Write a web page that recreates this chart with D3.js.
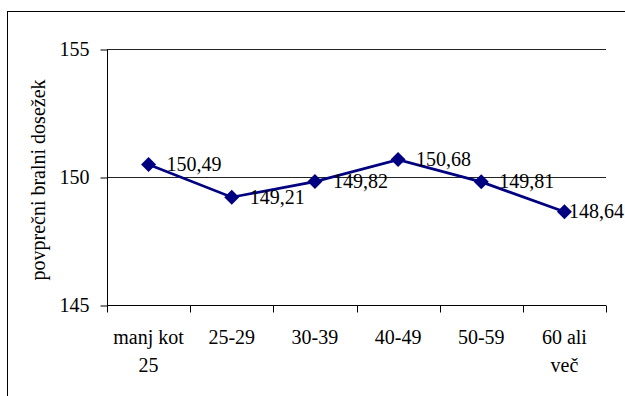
<!DOCTYPE html>
<html><head><meta charset="utf-8">
<script src="https://cdn.jsdelivr.net/npm/d3@7"></script>
<style>body{margin:0;background:#fff;} svg{display:block;} svg text{font-family:"Liberation Serif","Times New Roman",Times,serif !important;}</style>
</head><body>
<svg id="c" width="625" height="396"></svg>
<script>
(function(){
const categories = [["manj kot","25"],["25-29"],["30-39"],["40-49"],["50-59"],["60 ali","več"]];
const values = [150.49, 149.21, 149.82, 150.68, 149.81, 148.64];
const valueLabels = ["150,49","149,21","149,82","150,68","149,81","148,64"];
const yTicks = [145, 150, 155];
const yTitle = "povprečni bralni dosežek";

const svg = d3.select("#c");
const W = 625, H = 396;
const pL = 107, pR = 606, pT = 49, pB = 305;

svg.append("rect").attr("x",7.5).attr("y",11.5).attr("width",640).attr("height",400)
  .attr("fill","#fff").attr("stroke","#000").attr("stroke-width",1);

const x = d3.scaleBand().domain(d3.range(categories.length)).range([pL,pR]);
const y = d3.scaleLinear().domain([145,155]).range([pB,pT]);

// gridlines
svg.append("g").selectAll("line").data(yTicks.filter(t=>t>145)).join("line")
  .attr("x1",pL).attr("x2",pR)
  .attr("y1",d=>Math.round(y(d))+0.5).attr("y2",d=>Math.round(y(d))+0.5)
  .attr("stroke","#222").attr("stroke-width",1);

// y axis
const yAxis = d3.axisLeft(y).tickValues(yTicks).tickSize(7).tickPadding(11).tickFormat(d3.format("d"));
const gy = svg.append("g").attr("transform",`translate(${pL+0.5},0.5)`).call(yAxis);
gy.select(".domain").attr("stroke","#000").attr("d",`M0,${pT}V${pB}`);
gy.selectAll(".tick line").attr("stroke","#000");
gy.selectAll("text").attr("font-size",20).attr("fill","#000");
gy.attr("font-size",20);

// x axis
const xAxis = d3.axisBottom(x).tickSize(0).tickFormat("");
const gx = svg.append("g").attr("transform",`translate(0,${pB+0.5})`).call(xAxis);
gx.select(".domain").attr("stroke","#000").attr("d",`M${pL},0H${pR}`);
gx.selectAll(".tick").remove();
const bounds = d3.range(categories.length+1).map(i => i<categories.length ? x(i) : x(categories.length-1)+x.bandwidth());
gx.selectAll("line.b").data(bounds).join("line").attr("class","b")
  .attr("x1",d=>Math.round(d)+0.5).attr("x2",d=>Math.round(d)+0.5).attr("y1",0).attr("y2",7)
  .attr("stroke","#000");

// x labels
const xl = svg.append("g").selectAll("text").data(categories).join("text")
  .attr("x",(d,i)=>x(i)+x.bandwidth()/2).attr("y",344)
  .attr("text-anchor","middle").attr("font-size",20).attr("fill","#000");
xl.selectAll("tspan").data(d=>d).join("tspan")
  .attr("x",function(){return this.parentNode.getAttribute("x");})
  .attr("dy",(d,i)=>i===0?0:28).text(d=>d);

// y title
svg.append("text").attr("transform",`translate(45,180) rotate(-90)`)
  .attr("text-anchor","middle").attr("font-size",20).attr("fill","#000")
  .text(yTitle);

// line
const cx = i => x(i)+x.bandwidth()/2;
svg.append("path").datum(values)
  .attr("d", d3.line().x((d,i)=>cx(i)).y(d=>y(d)))
  .attr("fill","none").attr("stroke","#000080").attr("stroke-width",2.7);

svg.append("g").selectAll("path").data(values).join("path")
  .attr("transform",(d,i)=>`translate(${cx(i)},${y(d)})`)
  .attr("d","M0,-7.5L7.5,0L0,7.5L-7.5,0Z").attr("fill","#000080");

// value labels
const lab = svg.append("g").selectAll("text").data(values).join("text")
  .attr("y",d=>y(d)+6.5).attr("font-size",20).attr("fill","#000")
  .text((d,i)=>valueLabels[i]);
lab.each(function(d,i){
  const w = this.getComputedTextLength();
  this.setAttribute("x", Math.min(cx(i)+18, W-1-w));
});
})();
</script>
</body></html>
